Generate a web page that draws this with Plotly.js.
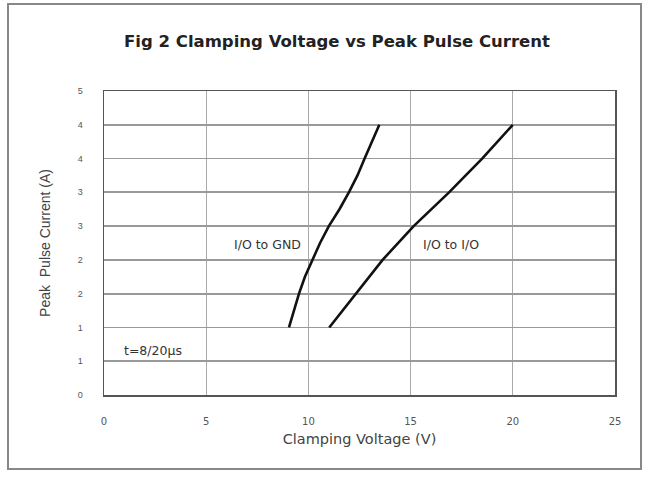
<!DOCTYPE html>
<html>
<head>
<meta charset="utf-8">
<script src="https://cdn.plot.ly/plotly-3.0.1.min.js"></script>
<style>body{margin:0;background:#fff;}#chart{width:650px;height:477px;}</style>
</head>
<body>
<div id="chart"></div>
<script>
// Data
var gndCurrent = [1, 1.25, 1.5, 1.75, 2, 2.25, 2.5, 2.75, 3, 3.25, 3.5, 3.75, 4];
var gndVoltage = [9.05, 9.3, 9.54, 9.83, 10.2, 10.57, 11.0, 11.52, 11.98, 12.4, 12.75, 13.1, 13.47];
var ioCurrent = [1, 1.5, 2, 2.5, 3, 3.5, 4];
var ioVoltage = [11.02, 12.33, 13.63, 15.15, 16.88, 18.5, 20.0];
var xTickVals = [0, 5, 10, 15, 20, 25];
var xTickText = ["0", "5", "10", "15", "20", "25"];
var yTickVals = [0, 0.5, 1, 1.5, 2, 2.5, 3, 3.5, 4, 4.5];
var yTickText = ["0", "1", "1", "2", "2", "3", "3", "4", "4", "5"];
var labels = [
  {text: "I/O to GND", x: 8.0, y: 2.23},
  {text: "I/O to I/O", x: 17.0, y: 2.23},
  {text: "t=8/20\u03bcs", x: 2.4, y: 0.66}
];

var lineStyle = {color: "#111", width: 2.6, shape: "linear"};
var traces = [
  {x: gndVoltage, y: gndCurrent, mode: "lines", line: lineStyle, name: "I/O to GND", hoverinfo: "skip"},
  {x: ioVoltage, y: ioCurrent, mode: "lines", line: lineStyle, name: "I/O to I/O", hoverinfo: "skip"}
];

var annotations = labels.map(function (l) {
  return {x: l.x, y: l.y, xref: "x", yref: "y", text: l.text, showarrow: false,
    font: {family: "DejaVu Sans", size: 12.5, color: "#333"}};
});

var L = 104, R = 615, T = 91, B = 395;
var pw = R - L, ph = B - T;
function px(x) { return (x - L) / pw; }
function py(y) { return (B - y) / ph; }

var layout = {
  width: 650, height: 477,
  margin: {l: L, r: 650 - R, t: T, b: 477 - B},
  paper_bgcolor: "#fff", plot_bgcolor: "#fff",
  showlegend: false,
  title: {text: "<b>Fig 2 Clamping Voltage vs Peak Pulse Current</b>",
    font: {family: "DejaVu Sans", size: 16.5, color: "#222"},
    x: 337 / 650, xanchor: "center", y: 1 - 41 / 477, yanchor: "middle"},
  xaxis: {
    range: [0, 25], tickvals: xTickVals, ticktext: xTickText,
    showgrid: true, gridcolor: "#aaa", gridwidth: 1,
    showline: true, linecolor: "#555", linewidth: 1.5, mirror: true,
    zeroline: false, ticks: "outside", ticklen: 16, tickcolor: "rgba(0,0,0,0)",
    tickfont: {family: "DejaVu Sans", size: 10, color: "#555"},
    title: {text: "Clamping Voltage (V)", standoff: 8,
      font: {family: "DejaVu Sans", size: 14.5, color: "#444"}}
  },
  yaxis: {
    range: [0, 4.5], tickvals: yTickVals, ticktext: yTickText,
    showgrid: true, gridcolor: "#999", gridwidth: 1.8,
    showline: true, linecolor: "#555", linewidth: 1.5, mirror: true,
    zeroline: false, ticks: "outside", ticklen: 18, tickcolor: "rgba(0,0,0,0)",
    tickfont: {family: "Liberation Sans, Arial", size: 9, color: "#555"},
    title: {text: "Peak  Pulse Current (A)", standoff: 24,
      font: {family: "Liberation Sans, Arial", size: 14, color: "#444"}}
  },
  annotations: annotations,
  shapes: [
    {type: "rect", xref: "paper", yref: "paper",
      x0: px(8), x1: px(641), y0: py(469), y1: py(4),
      line: {color: "#888", width: 2}, fillcolor: "rgba(0,0,0,0)", layer: "below"}
  ]
};

Plotly.newPlot("chart", traces, layout, {staticPlot: true, displayModeBar: false});
</script>
</body>
</html>
